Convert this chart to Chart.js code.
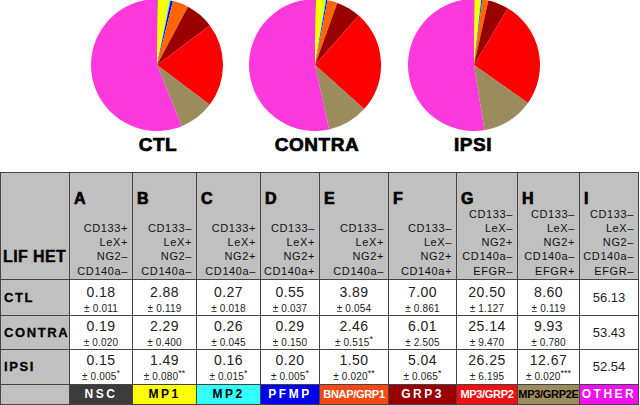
<!DOCTYPE html>
<html>
<head>
<meta charset="utf-8">
<script src="https://cdn.jsdelivr.net/npm/chart.js@4/dist/chart.umd.min.js"></script>
<style>
  html,body{margin:0;padding:0;background:#fff;}
  body{width:640px;height:405px;overflow:hidden;position:relative;font-family:"Liberation Sans",Arial,sans-serif;}
  .pie{position:absolute;top:-1px;}
  .plabel{position:absolute;top:134px;width:140px;text-align:center;font-weight:bold;font-size:19px;letter-spacing:0.5px;color:#000;-webkit-text-stroke:0.7px #000;}
  table{position:absolute;left:0;top:172px;width:638px;border-collapse:collapse;table-layout:fixed;}
  td{border:1px solid #444;padding:0;overflow:hidden;}
  .c{position:relative;overflow:hidden;}
  .hd{background:#c0c0c0;}
  .hd .let{position:absolute;left:4px;top:17px;font-weight:bold;font-size:16px;line-height:18px;-webkit-text-stroke:0.7px #000;}
  .hd .mk{position:absolute;right:4px;bottom:1px;text-align:right;font-size:11px;line-height:14.3px;letter-spacing:0.6px;color:#111;white-space:nowrap;}
  .rl{background:#c0c0c0;font-weight:bold;font-size:13px;letter-spacing:1.6px;text-align:left;-webkit-text-stroke:0.3px #000;}
  .rl .c{padding-left:3px;}
  .lif{background:#c0c0c0;}
  .lif .c div{position:absolute;left:2px;top:74px;font-weight:bold;font-size:16px;line-height:20px;letter-spacing:0.4px;white-space:nowrap;-webkit-text-stroke:0.4px #000;}
  .v{text-align:center;color:#222;}
  .v .m{position:absolute;left:0;right:0;top:5px;font-size:14px;line-height:15px;letter-spacing:0.5px;}
  .v .s{position:absolute;left:0;right:0;top:23px;font-size:10px;line-height:12px;letter-spacing:0.2px;white-space:nowrap;}
  .v sup{font-size:9px;line-height:0;vertical-align:4px;letter-spacing:0;}
  .o{text-align:center;vertical-align:middle;font-size:13px;color:#222;}
  .lab td{font-weight:bold;text-align:center;vertical-align:middle;white-space:nowrap;}
</style>
</head>
<body>
<canvas id="p0" class="pie" width="132" height="132" style="left:91px"></canvas>
<canvas id="p1" class="pie" width="132" height="132" style="left:249px"></canvas>
<canvas id="p2" class="pie" width="132" height="132" style="left:408px"></canvas>
<div class="plabel" style="left:88px">CTL</div>
<div class="plabel" style="left:247px">CONTRA</div>
<div class="plabel" style="left:403px">IPSI</div>
<table id="tbl"></table>
<script>
// ---- data ----
const groups = ["CTL", "CONTRA", "IPSI"];
const letters = ["A", "B", "C", "D", "E", "F", "G", "H", "I"];
const markers = [
  ["CD133+", "LeX+", "NG2\u2013", "CD140a\u2013"],
  ["CD133\u2013", "LeX+", "NG2\u2013", "CD140a\u2013"],
  ["CD133+", "LeX+", "NG2+", "CD140a\u2013"],
  ["CD133\u2013", "LeX+", "NG2+", "CD140a+"],
  ["CD133\u2013", "LeX+", "NG2+", "CD140a\u2013"],
  ["CD133\u2013", "LeX\u2013", "NG2+", "CD140a+"],
  ["CD133\u2013", "LeX\u2013", "NG2+", "CD140a\u2013", "EFGR\u2013"],
  ["CD133\u2013", "LeX\u2013", "NG2+", "CD140a\u2013", "EFGR+"],
  ["CD133\u2013", "LeX\u2013", "NG2\u2013", "CD140a\u2013", "EFGR\u2013"]
];
const cellTypes = ["NSC", "MP1", "MP2", "PFMP", "BNAP/GRP1", "GRP3", "MP3/GRP2", "MP3/GRP2E", "OTHER"];
const ctlValues    = [0.18, 2.88, 0.27, 0.55, 3.89, 7.00, 20.50, 8.60, 56.13];
const contraValues = [0.19, 2.29, 0.26, 0.29, 2.46, 6.01, 25.14, 9.93, 53.43];
const ipsiValues   = [0.15, 1.49, 0.16, 0.20, 1.50, 5.04, 26.25, 12.67, 52.54];
const ctlSem    = ["0.011", "0.119", "0.018", "0.037", "0.054", "0.861", "1.127", "0.119"];
const contraSem = ["0.020", "0.400", "0.045", "0.150", "0.515", "2.505", "9.470", "0.780"];
const ipsiSem   = ["0.005", "0.080", "0.015", "0.005", "0.020", "0.065", "6.195", "0.020"];
const ctlSig    = ["", "", "", "", "", "", "", ""];
const contraSig = ["", "", "", "", "*", "", "", ""];
const ipsiSig   = ["*", "**", "*", "*", "**", "*", "", "***"];
const headerLabel = "LIF HET";

// ---- styles ----
const pieColors = ["#3a3a3a", "#ffff00", "#00ffff", "#0000ee", "#ff6600", "#990000", "#ff0000", "#9a8c5c", "#fd38dc"];
const labelBg   = ["#3c3c3c", "#ffff00", "#33ffff", "#0000ee", "#f24a16", "#990000", "#ee1111", "#9c8c5c", "#f010f0"];
const labelFg   = ["#fff", "#000", "#000", "#fff", "#fff", "#fff", "#fff", "#000", "#fff"];
const colWidths = [69, 63, 64, 64, 59, 69, 68, 61, 62, 59];
const rowH = [35, 33, 34];

const allValues = [ctlValues, contraValues, ipsiValues];
const allSem = [ctlSem, contraSem, ipsiSem];
const allSig = [ctlSig, contraSig, ipsiSig];

allValues.forEach((vals, i) => {
  new Chart(document.getElementById("p" + i), {
    type: "pie",
    data: { labels: cellTypes, datasets: [{ data: vals, backgroundColor: pieColors, borderWidth: 0 }] },
    options: {
      responsive: false, animation: false,
      layout: { padding: 0 },
      plugins: { legend: { display: false }, tooltip: { enabled: false } }
    }
  });
});

// ---- table ----
const tbl = document.getElementById("tbl");
let html = "<colgroup>" + colWidths.map(w => `<col style="width:${w}px">`).join("") + "</colgroup>";
html += `<tr><td class="lif"><div class="c" style="height:106px"><div>${headerLabel}</div></div></td>`;
letters.forEach((l, j) => {
  html += `<td class="hd"><div class="c" style="height:106px"><div class="let">${l}</div><div class="mk">${markers[j].join("<br>")}</div></div></td>`;
});
html += "</tr>";
groups.forEach((g, i) => {
  html += `<tr><td class="rl"><div class="c" style="height:${rowH[i]}px;line-height:${rowH[i]}px">${g}</div></td>`;
  for (let j = 0; j < 8; j++) {
    const sig = allSig[i][j] ? `<sup>${allSig[i][j]}</sup>` : "";
    const top = i === 0 ? 0 : -2;
    html += `<td class="v"><div class="c" style="height:${rowH[i]}px"><div class="m" style="margin-top:${top}px">${allValues[i][j].toFixed(2)}</div><div class="s" style="margin-top:${top}px">\u00b1 ${allSem[i][j]}${sig}</div></div></td>`;
  }
  html += `<td class="o"><div class="c" style="height:${rowH[i]}px;line-height:${rowH[i]}px">${allValues[i][8].toFixed(2)}</div></td></tr>`;
});
html += `<tr class="lab"><td style="background:#c0c0c0"><div class="c" style="height:19px"></div></td>`;
cellTypes.forEach((c, j) => {
  let ls = c.length > 6 ? "-0.3px" : "2.5px";
  let fs = c.length > 6 ? "11px" : "12px";
  html += `<td style="background:${labelBg[j]};color:${labelFg[j]}"><div class="c" style="height:19px;line-height:19px;letter-spacing:${ls};font-size:${fs}">${c}</div></td>`;
});
html += "</tr>";
tbl.innerHTML = html;
</script>
</body>
</html>
